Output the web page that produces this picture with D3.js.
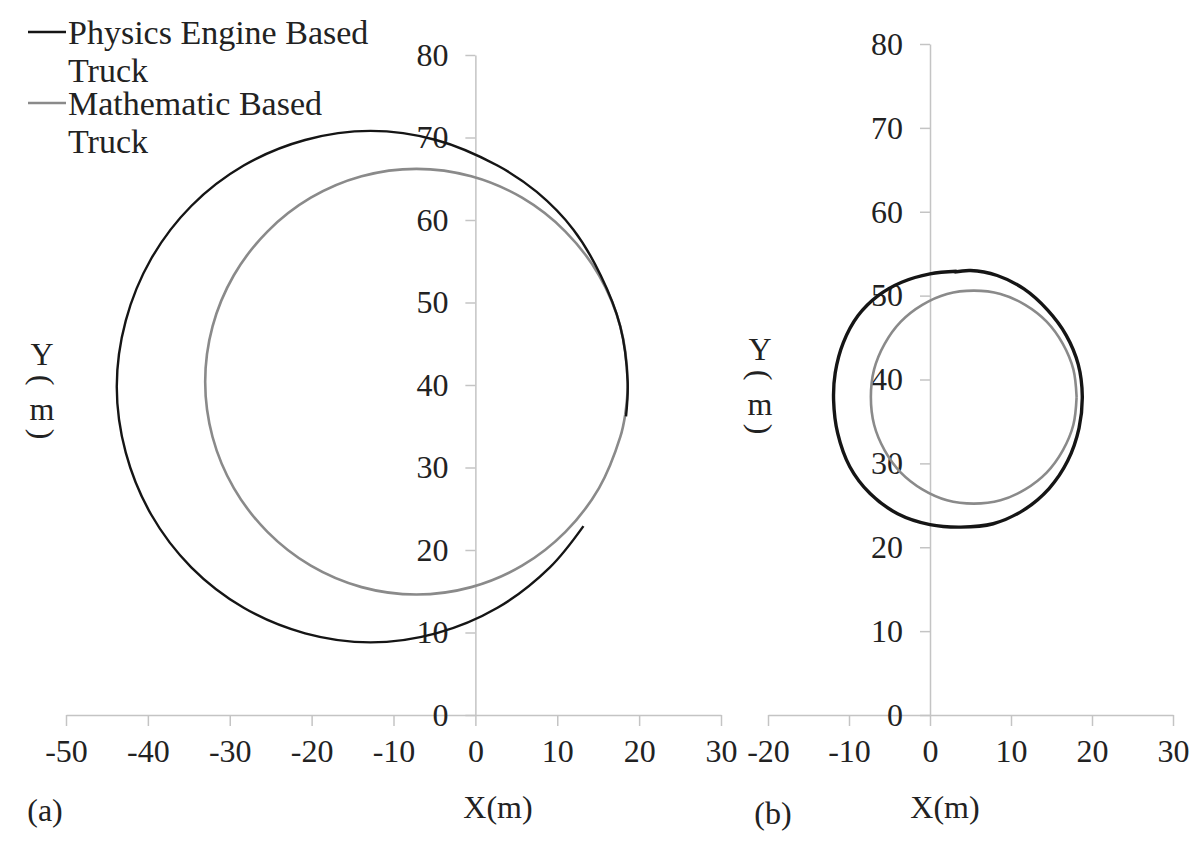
<!DOCTYPE html>
<html>
<head>
<meta charset="utf-8">
<script src="https://cdn.jsdelivr.net/npm/d3@7"></script>
<style>
  body { margin: 0; background: #fff; }
  text { font-family: "Liberation Serif", "Times New Roman", serif; fill: #222; }
</style>
</head>
<body>
<div id="chart-area"></div>
<script>
// trajectories, [x, y] in metres
let physicsA = [[18.4,36.2],[18.6,40.4],[17.7,47.1],[15.3,53.3],[12.0,58.8],[7.5,63.4],[2.7,66.6],[-4.8,69.7],
  [-12.8,70.8],[-20.8,69.7],[-28.3,66.6],[-34.7,61.7],[-39.6,55.3],[-42.7,47.8],[-43.8,39.8],
  [-42.7,31.8],[-39.6,24.3],[-34.7,17.9],[-28.3,13.0],[-20.8,9.9],[-12.8,8.8],[-4.8,9.9],
  [2.7,13.0],[9.1,17.9],[13.2,22.9]];
let mathA = [[18.3,36.4],[18.6,40.4],[17.7,47.1],[15.1,53.3],[11.0,58.6],[5.7,62.7],[-0.5,65.3],
  [-7.2,66.2],[-13.9,65.3],[-20.1,62.7],[-25.4,58.6],[-29.5,53.3],[-32.1,47.1],[-33.0,40.4],
  [-32.1,33.7],[-29.5,27.5],[-25.4,22.2],[-20.1,18.1],[-13.9,15.5],[-7.2,14.6],[-0.5,15.5],
  [5.7,18.1],[11.0,22.2],[15.1,27.5],[17.7,33.7],[18.3,36.4]];
let physicsB = [[3.3,52.9],[0.0,52.6],[-3.5,51.6],[-6.4,50.0],[-8.9,47.6],[-10.7,44.4],[-11.7,40.8],
  [-11.9,37.5],[-11.4,33.6],[-9.9,29.6],[-7.4,26.4],[-4.0,24.0],[0.0,22.7],[3.8,22.4],[7.8,22.8],
  [11.5,24.4],[14.7,27.0],[17.0,30.3],[18.4,34.2],[18.8,38.0],[18.3,41.8],[16.8,45.3],[14.5,48.3],
  [11.6,50.8],[8.3,52.4],[5.0,53.0],[3.0,52.8]];
let mathB = [[18.1,37.9],[17.7,41.2],[16.4,44.25],[14.4,46.9],[11.75,48.9],[8.7,50.2],[5.4,50.6],
  [2.1,50.2],[-0.95,48.9],[-3.6,46.9],[-5.6,44.25],[-6.9,41.2],[-7.3,37.9],[-6.9,34.6],[-5.6,31.55],
  [-3.6,28.9],[-0.95,26.9],[2.1,25.6],[5.4,25.2],[8.7,25.6],[11.75,26.9],[14.4,28.9],[16.4,31.55],
  [17.7,34.6],[18.1,37.9]];

let xTicksA = [-50,-40,-30,-20,-10,0,10,20,30];
let xTicksB = [-20,-10,0,10,20,30];
let yTicks = [0,10,20,30,40,50,60,70,80];
let seriesNames = ["Physics Engine Based Truck", "Mathematic Based Truck"];

let width = 1200, height = 846;
let black = "#151515", grey = "#8a8a8a", axisGrey = "#c4c4c4";

let svg = d3.select("#chart-area").append("svg")
    .attr("width", width)
    .attr("height", height);

let panels = [
  {x: d3.scaleLinear().domain([-50,30]).range([66,721]),
   y: d3.scaleLinear().domain([0,80]).range([715,55]),
   xt: xTicksA, phys: physicsA, math: mathA, pw: 2.4, tag: "(a)", tagX: 45, tagY: 821, labX: 498, ylabX: 42, ylabY: 354},
  {x: d3.scaleLinear().domain([-20,30]).range([768,1173]),
   y: d3.scaleLinear().domain([0,80]).range([715,44]),
   xt: xTicksB, phys: physicsB, math: mathB, pw: 3.4, tag: "(b)", tagX: 773, tagY: 824, labX: 945, ylabX: 760, ylabY: 349}
];

// plain hyphen for negatives, like the original
let fmt = d => String(d);

panels.forEach(p => {
  let g = svg.append("g");

  // x axis, drawn along y = 0
  let xa = g.append("g")
    .attr("transform", "translate(0," + p.y(0) + ")")
    .call(d3.axisBottom(p.x).tickValues(p.xt).tickFormat(fmt).tickSize(11).tickSizeOuter(0).tickPadding(13));
  // y axis, drawn along x = 0
  let ya = g.append("g")
    .attr("transform", "translate(" + p.x(0) + ",0)")
    .call(d3.axisLeft(p.y).tickValues(yTicks).tickFormat(fmt).tickSize(10).tickSizeOuter(0).tickPadding(17));

  [xa, ya].forEach(a => {
    a.selectAll("path, line").attr("stroke", axisGrey).attr("stroke-width", 1.5);
    a.selectAll("text").style("font-family", "Liberation Serif, serif").style("font-size", "32px").attr("fill", "#222");
  });

  let line = d3.line()
    .x(d => p.x(d[0]))
    .y(d => p.y(d[1]))
    .curve(d3.curveCatmullRom);

  g.append("path").attr("d", line(p.math))
    .attr("fill", "none").attr("stroke", grey).attr("stroke-width", 2.6);
  g.append("path").attr("d", line(p.phys))
    .attr("fill", "none").attr("stroke", black).attr("stroke-width", p.pw);

  // axis titles
  g.append("text").attr("x", p.labX).attr("y", 818).attr("text-anchor", "middle")
    .style("font-size", "32px").text("X(m)");
  g.append("text").attr("x", p.tagX).attr("y", p.tagY).attr("text-anchor", "middle")
    .style("font-size", "32px").text(p.tag);

  // stacked Y(m) label, brackets turned sideways
  g.append("text").attr("x", p.ylabX).attr("y", p.ylabY + 11).attr("text-anchor", "middle")
    .style("font-size", "32px").text("Y");
  g.append("text").attr("transform", "translate(" + p.ylabX + "," + (p.ylabY + 26) + ") rotate(90)")
    .attr("text-anchor", "middle").attr("dy", "0.32em").style("font-size", "32px").text("(");
  g.append("text").attr("x", p.ylabX).attr("y", p.ylabY + 66).attr("text-anchor", "middle")
    .style("font-size", "32px").text("m");
  g.append("text").attr("transform", "translate(" + p.ylabX + "," + (p.ylabY + 80) + ") rotate(90)")
    .attr("text-anchor", "middle").attr("dy", "0.32em").style("font-size", "32px").text(")");
});

// legend, top left
let legend = svg.append("g");
let legendRows = [
  {name: seriesNames[0], color: black, y: 32},
  {name: seriesNames[1], color: grey, y: 103}
];
legendRows.forEach(r => {
  legend.append("line").attr("x1", 28).attr("x2", 66).attr("y1", r.y).attr("y2", r.y)
    .attr("stroke", r.color).attr("stroke-width", 2.6);
  let words = r.name.split(" ");
  let t = legend.append("text").attr("x", 68).attr("y", r.y + 12).style("font-size", "34px");
  t.append("tspan").attr("x", 68).text(words.slice(0, -1).join(" "));
  t.append("tspan").attr("x", 68).attr("dy", 38).text(words[words.length - 1]);
});
</script>
</body>
</html>
